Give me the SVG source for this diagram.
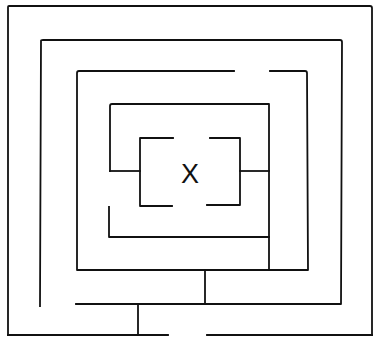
<svg xmlns="http://www.w3.org/2000/svg" width="374" height="337" viewBox="0 0 374 337">
<style>
.w{fill:none;stroke:#111;stroke-width:1.8;stroke-linecap:square;stroke-linejoin:round}
.lbl{font-family:"Liberation Sans",Arial,sans-serif;font-size:27px;fill:#111;text-anchor:middle}
</style>
<rect width="374" height="337" fill="#fff"/>
<g id="maze-walls" class="w">
<g id="ring1">
<path d="M8,335 L8,7 Q8,6 9,6 L370,6 Q372,6 372,8 L372,335"/>
<path d="M8,335 L168,335"/>
<path d="M207,335 L372,335"/>
</g>
<g id="ring2">
<path d="M40,306 L41,41 Q41,40 43,40 L340,40 Q342,40 342,42 L341,304 L76,304"/>
</g>
<g id="ring3">
<path d="M234,71 L79,71 Q77,71 77,73 L77,270 L308,270 L307,73 Q307,71 305,71 L270,71"/>
</g>
<g id="ring4">
<path d="M110,171 L110,106 Q110,104 112,104 L269,104 L269,270"/>
<path d="M109,207 L109,237 L269,237"/>
</g>
<g id="inner-box">
<path d="M173,138 L140,138 L140,206 L172,206"/>
<path d="M210,138 L240,138 L240,205 L207,205"/>
</g>
<g id="spurs">
<path d="M110,171 L140,171"/>
<path d="M240,171 L269,171"/>
<path d="M205,270 L205,304"/>
<path d="M138,304 L138,335"/>
</g>
</g>
<g id="goal">
<text class="lbl" x="190" y="183">X</text>
</g>
</svg>
